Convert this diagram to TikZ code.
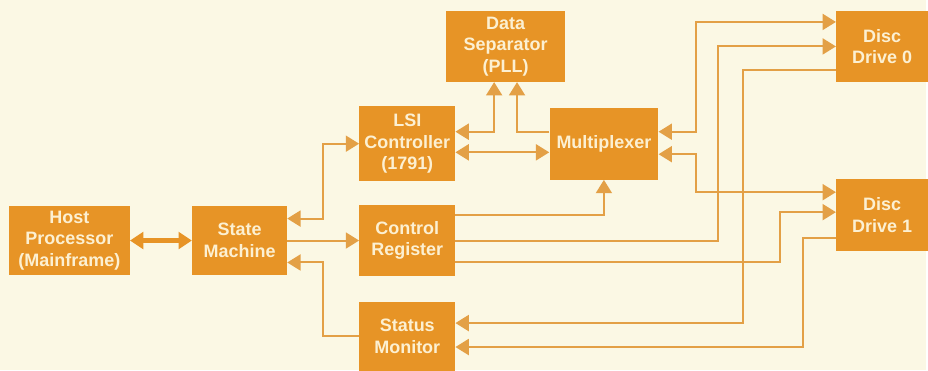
\documentclass[tikz,border=0pt]{standalone}
\usepackage{fontspec}
\setmainfont{Liberation Sans}
\usepackage{tikz}
\definecolor{hpbox}{RGB}{231, 148, 38}
\definecolor{hpline}{RGB}{227, 160, 70}
\definecolor{hppaper}{RGB}{251, 248, 228}
\definecolor{hptext}{RGB}{252, 240, 210}
\usetikzlibrary{arrows.meta,positioning,calc}

\begin{document}
\begin{tikzpicture}[x=0.75pt, y=-0.75pt,
            unit/.style={fill=hpbox, text=hptext, font=\bfseries\fontsize{13.5}{16.3}\selectfont,
                  align=center, inner sep=0pt, minimum width=72pt, minimum height=54pt},
            sig/.style={-{Triangle[length=10pt, width=12pt]}, line width=1.5pt, hpline},
            bisig/.style={{Triangle[length=10pt, width=12pt]}-{Triangle[length=10pt, width=12pt]},
                  line width=1.5pt, hpline}]
            \fill[hppaper] (0,0) rectangle (928,371);

            % Blocks
            \node[unit, minimum width=90.75pt, minimum height=52.5pt] (host) at (69.5,241) {Host\\Processor\\(Mainframe)};
            \node[unit, minimum width=71.25pt, minimum height=52.5pt, right=46.5pt of host] (state) {State\\Machine};
            \node[unit, right=54pt of state] (ctrl) {Control\\Register};
            \node[unit, minimum height=56.25pt, above=17.25pt of ctrl] (lsi) {LSI\\Controller\\(1791)};
            \node[unit, minimum height=51.75pt, below=18.75pt of ctrl] (status) {Status\\Monitor};
            \node[unit, minimum width=81.75pt, right=70.5pt of lsi] (mux) {Multiplexer};
            \node[unit, minimum width=89.25pt, minimum height=53.25pt,
                  above=18.5pt of $(lsi.north)!0.5!(mux.north)$] (pll) {Data\\Separator\\(PLL)};
            \node[unit, minimum width=69pt, minimum height=53.25pt, right=203.4pt of pll] (disc0) {Disc\\Drive 0};
            \node[unit, minimum width=69pt, below=72.75pt of disc0] (disc1) {Disc\\Drive 1};
            \coordinate (busL) at ($(state.east)!0.5!(ctrl.west)$);

            \draw[{Triangle[length=10pt, width=12.5pt]}-{Triangle[length=10pt, width=12.5pt]},
                  line width=3.5pt, hpbox] (host) -- (state);
            \draw[bisig] ([yshift=16.5pt]state.east) -| (busL |- lsi.west) -- (lsi.west);
            \draw[sig] (state) -- (ctrl);
            \draw[sig] (status.west) -| ([yshift=-16.5pt]busL) -- ([yshift=-16.5pt]state.east);

            \draw[bisig] ([yshift=9pt]lsi.east) -| ([xshift=-8.6pt]pll.south);
            \draw[sig] ([yshift=9pt]mux.west) -| ([xshift=8.6pt]pll.south);
            \draw[bisig] ([yshift=-6.5pt]lsi.east) -- ([yshift=-6.5pt]mux.west);
            \draw[sig] ([yshift=19.5pt]ctrl.east) -| (mux.south);

            \draw[bisig] ([yshift=9pt]mux.east) -- ++(27.75pt,0) |- ([yshift=18.4pt]disc0.west);
            \draw[bisig] ([yshift=-7.9pt]mux.east) -- ++(27.75pt,0) |- ([yshift=17.25pt]disc1.west);
            \draw[sig] (ctrl.east) -- ++(197.25pt,0) |- (disc0.west);
            \draw[sig] ([yshift=-16.5pt]ctrl.east) -- ++(243.75pt,0) |- ([yshift=2.25pt]disc1.west);
            \draw[sig] ([yshift=-17.6pt]disc0.west) -- ++(-69.75pt,0) |- ([yshift=10pt]status.east);
            \draw[sig] ([yshift=-17.25pt]disc1.west) -- ++(-24.75pt,0) |- ([yshift=-8pt]status.east);
\end{tikzpicture}
\end{document}
